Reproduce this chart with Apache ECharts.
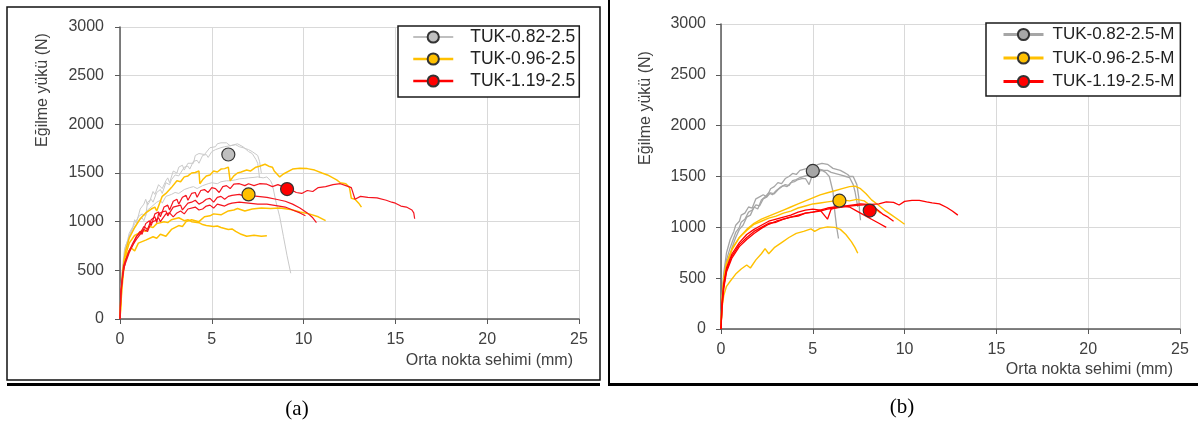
<!DOCTYPE html>
<html>
<head>
<meta charset="utf-8">
<script src="https://cdn.jsdelivr.net/npm/echarts@6/dist/echarts.min.js"></script>
<style>
    html, body { margin: 0; padding: 0; background: #fff; }
    #main { width: 1198px; height: 423px; }
</style>
</head>
<body>
<div id="main"></div>
<script>
    // (a) TUK-x-2.5 : [sehim mm, yük N]
    const aGray1 = [[0,0],[0.05,300],[0.1,450],[0.2,650],[0.25,720],[0.4,800],[0.5,880],[0.7,950],[0.8,1020],[0.9,990],[1.1,1130],[1.3,1180],[1.4,1230],[1.5,1170],[1.6,1200],[1.8,1310],[1.9,1280],[2.1,1380],[2.3,1340],[2.5,1420],[2.6,1450],[2.7,1400],[2.9,1520],[3.1,1500],[3.2,1560],[3.4,1580],[3.5,1530],[3.7,1600],[3.8,1620],[4.0,1600],[4.1,1680],[4.3,1700],[4.4,1720],[4.6,1690],[4.7,1700],[4.9,1760],[5.0,1780],[5.2,1770],[5.3,1800],[5.5,1810],[5.6,1790],[5.8,1810],[5.9,1820],[6.0,1780],[6.2,1790],[6.4,1800],[6.5,1780],[6.7,1770],[6.8,1760],[7.0,1720],[7.1,1730],[7.2,1700],[7.4,1640],[7.5,1600],[7.6,1450]];
    const aGray2 = [[0,0],[0.08,350],[0.15,500],[0.3,750],[0.45,820],[0.6,900],[0.8,980],[1,1050],[1.2,1080],[1.3,1100],[1.4,1060],[1.5,1200],[1.7,1230],[1.8,1200],[2,1300],[2.2,1330],[2.3,1290],[2.5,1400],[2.7,1380],[2.8,1430],[3,1480],[3.2,1470],[3.5,1560],[3.7,1570],[3.8,1540],[4,1620],[4.2,1630],[4.3,1600],[4.5,1680],[4.7,1690],[4.8,1660],[5,1720],[5.2,1740],[5.3,1720],[5.5,1760],[5.7,1770],[5.8,1750],[6,1780],[6.3,1790],[6.5,1770],[6.7,1760],[7,1740],[7.2,1720],[7.3,1700],[7.5,1680],[7.6,1620],[7.7,1500]];
    const aGray3 = [[0,0],[0.1,420],[0.2,600],[0.35,720],[0.5,850],[0.7,920],[1,1000],[1.2,1040],[1.3,1010],[1.5,1120],[1.7,1150],[2,1200],[2.2,1220],[2.3,1190],[2.5,1260],[2.8,1280],[3,1300],[3.2,1290],[3.5,1330],[3.8,1350],[4,1360],[4.2,1340],[4.5,1370],[4.8,1390],[5,1400],[5.3,1390],[5.5,1410],[5.8,1420],[6,1420],[6.3,1430],[6.5,1440],[6.8,1445],[7,1450],[7.3,1455],[7.5,1460],[7.8,1450],[8,1460],[8.2,1420],[8.3,1380],[8.5,1200],[8.7,1050],[8.9,850],[9.1,650],[9.3,470]];
    const aYellow1 = [[0,0],[0.05,250],[0.15,500],[0.3,700],[0.5,830],[0.8,940],[1.1,1030],[1.4,1090],[1.7,1130],[1.9,1150],[2.0,1110],[2.3,1260],[2.5,1290],[2.6,1270],[2.8,1350],[3.1,1420],[3.3,1410],[3.5,1460],[3.7,1470],[3.9,1500],[4.1,1505],[4.3,1520],[4.35,1390],[4.5,1430],[4.7,1470],[4.9,1480],[5.1,1520],[5.3,1510],[5.5,1540],[5.7,1545],[5.9,1560],[6.0,1420],[6.2,1470],[6.4,1500],[6.6,1510],[6.9,1530],[7.1,1520],[7.4,1560],[7.6,1570],[7.9,1590],[8.1,1570],[8.3,1560],[8.4,1520],[8.7,1460],[8.9,1490],[9.0,1510],[9.4,1540],[9.8,1550],[10.2,1545],[10.6,1530],[11.0,1500],[11.3,1480],[11.5,1460],[11.8,1430],[12.0,1400],[12.3,1390],[12.5,1350],[12.6,1240],[12.8,1230],[13.0,1190],[13.15,1150]];
    const aYellow2 = [[0,0],[0.1,300],[0.2,500],[0.35,660],[0.6,730],[0.8,700],[1.0,780],[1.4,810],[1.8,845],[2.0,830],[2.2,870],[2.5,850],[2.8,920],[3.2,960],[3.4,950],[3.6,1000],[3.9,1020],[4.3,1000],[4.6,1050],[4.9,1060],[5.1,1080],[5.5,1070],[5.9,1110],[6.2,1120],[6.4,1135],[6.8,1110],[7.2,1130],[7.7,1140],[8.2,1135],[8.7,1140],[9.3,1125],[9.8,1100],[10.3,1080],[10.8,1050],[11.2,1010]];
    const aYellow3 = [[0,0],[0.1,350],[0.25,620],[0.5,780],[0.8,860],[1.0,880],[1.2,910],[1.4,900],[1.6,950],[1.8,940],[2.0,980],[2.4,1000],[2.6,990],[2.8,1020],[3.2,1040],[3.5,1010],[3.7,1020],[3.9,1000],[4.3,990],[4.5,970],[4.7,960],[5.1,950],[5.3,955],[5.5,940],[5.9,920],[6.1,925],[6.3,900],[6.6,870],[6.9,850],[7.1,855],[7.3,860],[7.7,850],[8.0,855]];
    const aRed1 = [[0,0],[0.05,250],[0.15,450],[0.3,600],[0.5,700],[0.7,760],[0.9,850],[1.1,900],[1.2,870],[1.4,980],[1.6,1010],[1.7,960],[1.9,1080],[2.1,1100],[2.2,1050],[2.4,1150],[2.6,1170],[2.7,1120],[2.9,1210],[3.1,1230],[3.2,1180],[3.4,1250],[3.6,1270],[3.7,1220],[3.9,1290],[4.1,1300],[4.2,1250],[4.4,1320],[4.6,1330],[4.8,1300],[5.0,1350],[5.2,1340],[5.4,1300],[5.6,1360],[5.8,1370],[6.0,1340],[6.2,1385],[6.5,1390],[6.8,1370],[7.0,1390],[7.3,1370],[7.6,1390],[8.0,1385],[8.3,1360],[8.6,1380],[9.0,1350],[9.3,1330],[9.6,1300],[9.9,1290],[10.2,1320],[10.5,1310],[10.8,1350],[11.2,1360],[11.6,1380],[12.0,1390],[12.3,1370],[12.6,1350],[12.7,1340],[12.8,1230],[13.1,1260],[13.5,1250],[14.0,1245],[14.5,1220],[14.8,1200],[15.0,1190],[15.3,1160],[15.6,1150],[15.9,1120],[16.0,1090],[16.05,1030]];
    const aRed2 = [[0,0],[0.05,300],[0.2,550],[0.4,650],[0.5,700],[0.7,780],[0.9,850],[1.1,880],[1.3,950],[1.5,920],[1.7,1020],[1.9,1050],[2.0,990],[2.1,1080],[2.3,1100],[2.5,1110],[2.6,1060],[2.9,1150],[3.1,1160],[3.3,1170],[3.4,1120],[3.7,1190],[3.9,1200],[4.1,1220],[4.3,1180],[4.5,1200],[4.7,1230],[4.9,1240],[5.1,1200],[5.3,1250],[5.5,1260],[5.7,1230],[5.9,1260],[6.1,1270],[6.5,1280],[6.8,1260],[7.0,1270],[7.5,1260],[8.0,1250],[8.5,1230],[9.0,1210],[9.4,1180],[9.8,1140],[10.2,1090],[10.5,1040],[10.7,990]];
    const aRed3 = [[0,0],[0.05,280],[0.2,520],[0.5,680],[0.7,760],[0.9,820],[1.1,870],[1.3,920],[1.5,900],[1.7,990],[1.9,1010],[2.1,1040],[2.2,1000],[2.5,1080],[2.7,1090],[2.9,1050],[3.1,1090],[3.3,1110],[3.5,1080],[3.7,1130],[4.1,1150],[4.3,1120],[4.5,1130],[4.7,1160],[4.9,1170],[5.1,1140],[5.3,1180],[5.7,1160],[5.9,1180],[6.1,1190],[6.5,1200],[7.0,1190],[7.5,1180],[8.0,1180],[8.5,1165],[9.0,1150],[9.4,1120],[9.8,1090],[10.1,1060]];
    const aMean = { gray: [5.9, 1690], yellow: [7.0, 1280], red: [9.1, 1335] };

    // (b) TUK-x-2.5-M
    const bGray1 = [[0,0],[0.05,300],[0.15,550],[0.3,750],[0.5,880],[0.7,960],[0.8,1020],[1.0,1060],[1.1,1120],[1.3,1140],[1.5,1200],[1.7,1190],[1.9,1280],[2.1,1300],[2.3,1320],[2.5,1300],[2.7,1380],[2.9,1400],[3.1,1440],[3.3,1430],[3.5,1480],[3.7,1500],[3.9,1530],[4.1,1520],[4.3,1560],[4.5,1570],[4.7,1580],[4.9,1570],[5.1,1600],[5.3,1620],[5.5,1630],[5.8,1620],[6.1,1580],[6.3,1570],[6.5,1560],[6.7,1540],[6.9,1520],[7.0,1500],[7.2,1500],[7.4,1420],[7.5,1300],[7.55,1150],[7.6,1070]];
    const bGray2 = [[0,0],[0.05,250],[0.15,480],[0.3,680],[0.5,800],[0.8,950],[1.0,1000],[1.1,1050],[1.3,1080],[1.5,1150],[1.7,1170],[1.9,1220],[2.1,1210],[2.3,1280],[2.5,1300],[2.7,1340],[2.9,1330],[3.1,1370],[3.3,1400],[3.5,1420],[3.7,1410],[3.9,1460],[4.1,1470],[4.3,1490],[4.5,1500],[4.7,1510],[4.9,1500],[5.1,1540],[5.3,1550],[5.5,1560],[5.7,1540],[5.9,1500],[6.1,1350],[6.2,1150],[6.3,1000],[6.4,890]];
    const bGray3 = [[0,0],[0.05,200],[0.15,420],[0.3,600],[0.6,800],[0.8,900],[1,980],[1.2,1020],[1.4,1100],[1.6,1120],[1.8,1200],[2.0,1180],[2.2,1270],[2.4,1300],[2.6,1340],[2.8,1320],[3.0,1360],[3.2,1390],[3.4,1410],[3.6,1400],[3.8,1440],[4.0,1450],[4.2,1470],[4.4,1480],[4.6,1480],[4.8,1420],[5.0,1530],[5.2,1550],[5.4,1570],[5.6,1560],[5.8,1560],[6.0,1540],[6.2,1530],[6.4,1520],[6.6,1510],[6.8,1500],[7.0,1490],[7.2,1420],[7.3,1350],[7.45,1200]];
    const bYellow1 = [[0,0],[0.05,250],[0.15,480],[0.3,640],[0.6,780],[1.0,900],[1.4,980],[1.8,1040],[2.2,1080],[2.6,1110],[3.0,1140],[3.4,1170],[3.8,1200],[4.2,1230],[4.6,1260],[5.0,1290],[5.4,1320],[5.8,1340],[6.2,1360],[6.6,1380],[7.0,1400],[7.3,1405],[7.6,1380],[7.9,1330],[8.2,1270],[8.5,1230],[8.9,1170],[9.3,1120],[9.7,1070],[10.0,1030]];
    const bYellow2 = [[0,0],[0.05,280],[0.15,500],[0.3,650],[0.6,790],[1.0,900],[1.4,970],[1.8,1030],[2.2,1060],[2.6,1090],[3.0,1110],[3.4,1140],[3.8,1160],[4.2,1190],[4.6,1210],[5.0,1230],[5.4,1240],[5.8,1250],[6.2,1260],[6.6,1270],[7.0,1260],[7.4,1275],[7.8,1260],[8.1,1220],[8.4,1180],[8.7,1140]];
    const bYellow3 = [[0,0],[0.05,200],[0.15,330],[0.3,420],[0.5,470],[0.8,540],[1.1,590],[1.4,630],[1.6,600],[1.9,680],[2.2,740],[2.4,790],[2.6,740],[2.9,800],[3.3,850],[3.7,900],[4.1,940],[4.5,960],[4.9,985],[5.1,960],[5.4,990],[5.8,1005],[6.2,1000],[6.5,980],[6.8,930],[7.1,860],[7.3,800],[7.45,745]];
    const bRed1 = [[0,0],[0.05,200],[0.15,400],[0.3,560],[0.6,700],[1.0,810],[1.4,880],[1.8,940],[2.2,990],[2.6,1030],[3.0,1060],[3.4,1080],[3.8,1100],[4.2,1120],[4.6,1140],[5.0,1150],[5.4,1160],[5.8,1180],[6.2,1190],[6.6,1200],[7.0,1210],[7.4,1215],[7.8,1220],[8.2,1225],[8.6,1230],[9.0,1250],[9.4,1245],[9.7,1220],[10.0,1255],[10.4,1265],[10.8,1265],[11.2,1250],[11.5,1240],[11.9,1230],[12.3,1195],[12.6,1160],[12.9,1120]];
    const bRed2 = [[0,0],[0.05,250],[0.15,450],[0.3,600],[0.6,740],[1.0,850],[1.4,930],[1.8,980],[2.2,1020],[2.6,1060],[3.0,1080],[3.4,1100],[3.8,1120],[4.2,1150],[4.6,1170],[5.0,1180],[5.4,1170],[5.8,1190],[6.2,1200],[6.6,1210],[7.0,1200],[7.4,1160],[7.8,1120],[8.2,1080],[8.6,1040],[9.0,1000]];
    const bRed3 = [[0,0],[0.05,230],[0.15,420],[0.3,580],[0.6,720],[1.0,830],[1.4,900],[1.8,960],[2.2,1000],[2.6,1040],[3.0,1050],[3.4,1080],[3.8,1100],[4.2,1110],[4.6,1140],[5.0,1150],[5.4,1170],[5.8,1080],[6.0,1180],[6.4,1200],[6.8,1210],[7.2,1220],[7.6,1230],[8.0,1225],[8.4,1190],[8.8,1130],[9.1,1100],[9.4,1060]];
    const bMean = { gray: [5.0, 1555], yellow: [6.45, 1262], red: [8.1, 1165] };

    const namesA = ['TUK-0.82-2.5', 'TUK-0.96-2.5', 'TUK-1.19-2.5'];
    const namesB = ['TUK-0.82-2.5-M', 'TUK-0.96-2.5-M', 'TUK-1.19-2.5-M'];

    const font = 'Liberation Sans, Arial, sans-serif';
    const labelColor = '#404040';

    function xAxis(i) {
        return {
            type: 'value', gridIndex: i, min: 0, max: 25, interval: 5,
            axisLine: {show: true, onZero: false, lineStyle: {color: '#595959', width: 1.5}},
            axisTick: {show: true, length: 5, lineStyle: {color: '#595959'}},
            axisLabel: {color: labelColor, fontSize: 16, fontFamily: font, margin: 13},
            splitLine: {show: true, lineStyle: {color: '#d9d9d9', width: 1}}
        };
    }
    function yAxis(i, m) {
        return {
            type: 'value', gridIndex: i, min: 0, max: 3000, interval: 500,
            axisLine: {show: true, onZero: false, lineStyle: {color: '#595959', width: 1.5}},
            axisTick: {show: true, length: 5, lineStyle: {color: '#595959'}},
            axisLabel: {color: labelColor, fontSize: 16, fontFamily: font, margin: m, formatter: v => String(v)},
            splitLine: {show: true, lineStyle: {color: '#d9d9d9', width: 1}}
        };
    }
    // ortalama noktasi (legend ikonu da bundan)
    function meanSeries(name, pt, color, lineW, i) {
        return {
            type: 'line', name: name, xAxisIndex: i, yAxisIndex: i, data: [pt],
            symbol: 'circle', symbolSize: 13, showSymbol: true, silent: true, z: 5,
            itemStyle: {color: color, borderColor: '#333', borderWidth: 1.2},
            lineStyle: {color: color, width: lineW}
        };
    }
    function curveSeries(name, data, color, width, i) {
        return {
            type: 'line', name: name, xAxisIndex: i, yAxisIndex: i, data: data,
            symbol: 'none', showSymbol: false, silent: true, z: 2,
            lineStyle: {color: color, width: width}
        };
    }

    const series = [
        meanSeries(namesA[0], aMean.gray, '#bfbfbf', 2, 0),
        meanSeries(namesA[1], aMean.yellow, '#ffc000', 2.5, 0),
        meanSeries(namesA[2], aMean.red, '#ff0000', 2.5, 0),
        meanSeries(namesB[0], bMean.gray, '#a6a6a6', 3, 1),
        meanSeries(namesB[1], bMean.yellow, '#ffc000', 3, 1),
        meanSeries(namesB[2], bMean.red, '#ff0000', 3, 1)
    ];
    [aGray1, aGray2, aGray3].forEach(d => series.push(curveSeries(namesA[0], d, '#c9c9c9', 1, 0)));
    [aYellow1, aYellow2, aYellow3].forEach(d => series.push(curveSeries(namesA[1], d, '#ffc000', 1.5, 0)));
    [aRed1, aRed2, aRed3].forEach(d => series.push(curveSeries(namesA[2], d, '#f5141e', 1.2, 0)));
    [bGray1, bGray2, bGray3].forEach(d => series.push(curveSeries(namesB[0], d, '#a6a6a6', 1.3, 1)));
    [bYellow1, bYellow2, bYellow3].forEach(d => series.push(curveSeries(namesB[1], d, '#ffc000', 1.4, 1)));
    [bRed1, bRed2, bRed3].forEach(d => series.push(curveSeries(namesB[2], d, '#ff0000', 1.3, 1)));

    function legend(names, widths, left, top, pad, gap, textPad, fs) {
        return {
            data: names.map((n, k) => ({name: n, lineStyle: {width: widths[k]}})),
            orient: 'vertical', left: left, top: top,
            padding: pad, itemGap: gap, itemWidth: 40, itemHeight: 14,
            backgroundColor: '#fff', borderColor: '#1a1a1a', borderWidth: 1.5,
            textStyle: {color: '#222', fontSize: fs, fontFamily: font, padding: [0, 0, 0, textPad]},
            selectedMode: false
        };
    }

    function txt(x, y, text, size, fam, align, rot) {
        return {
            type: 'text', x: x, y: y, rotation: rot || 0, silent: true,
            style: {text: text, font: size + 'px ' + fam, fill: labelColor, align: align, verticalAlign: 'middle'}
        };
    }

    const option = {
        animation: false,
        backgroundColor: '#fff',
        grid: [
            {left: 120, top: 27, width: 459, height: 292},
            {left: 721, top: 24, width: 459, height: 305}
        ],
        xAxis: [xAxis(0), xAxis(1)],
        yAxis: [yAxis(0, 16), yAxis(1, 15)],
        legend: [
            legend(namesA, [2, 2.5, 2.5], 398, 26, [2, 4, 7, 14], 4, 12, 17.5),
            legend(namesB, [3, 3, 3], 986, 23, [3, 6, 6, 16], 6.5, 4, 17)
        ],
        series: series,
        graphic: [
            // cerceveler
            {type: 'rect', silent: true, shape: {x: 7, y: 7, width: 593, height: 373}, style: {fill: 'none', stroke: '#111', lineWidth: 1.5}},
            {type: 'line', silent: true, shape: {x1: 7, y1: 384.5, x2: 600, y2: 384.5}, style: {stroke: '#000', lineWidth: 3}},
            {type: 'line', silent: true, shape: {x1: 609, y1: 0, x2: 609, y2: 386}, style: {stroke: '#000', lineWidth: 2}},
            {type: 'line', silent: true, shape: {x1: 608, y1: 384.5, x2: 1198, y2: 384.5}, style: {stroke: '#000', lineWidth: 3}},
            // eksen basliklari
            txt(43, 90, 'Eğilme yükü (N)', 16, font, 'center', Math.PI / 2),
            txt(573, 361, 'Orta nokta sehimi (mm)', 16, font, 'right'),
            txt(646, 108, 'Eğilme yükü (N)', 16, font, 'center', Math.PI / 2),
            txt(1173, 370, 'Orta nokta sehimi (mm)', 16, font, 'right'),
            // alt yazilar
            {type: 'text', x: 297, y: 409, silent: true, style: {text: '(a)', font: '21px Liberation Serif, Times New Roman, serif', fill: '#000', align: 'center', verticalAlign: 'middle'}},
            {type: 'text', x: 902, y: 407, silent: true, style: {text: '(b)', font: '21px Liberation Serif, Times New Roman, serif', fill: '#000', align: 'center', verticalAlign: 'middle'}}
        ]
    };

    const myChart = echarts.init(document.getElementById('main'));
    myChart.setOption(option);
</script>
</body>
</html>
